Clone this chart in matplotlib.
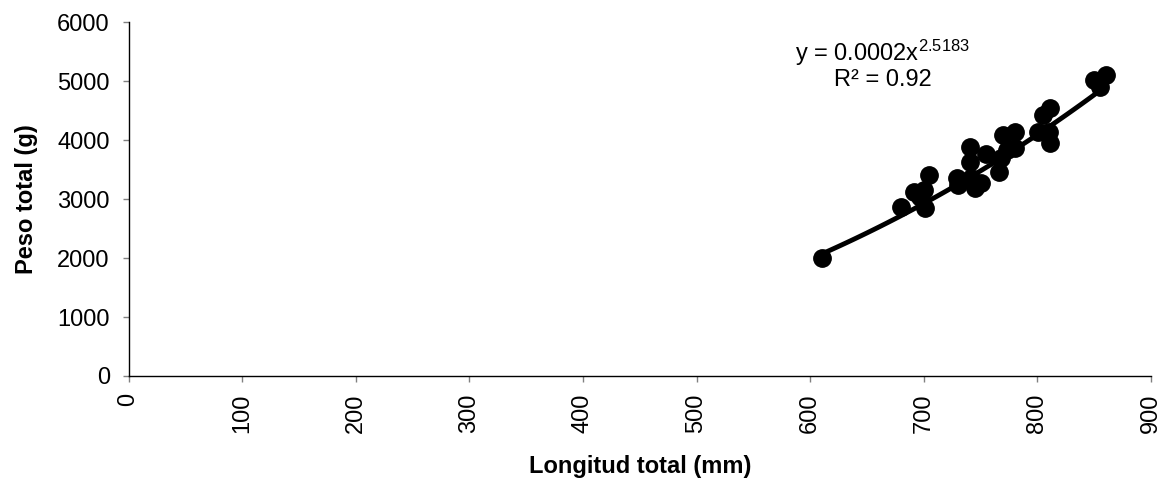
import matplotlib
matplotlib.use("Agg")
import matplotlib.pyplot as plt
import numpy as np

plt.rcParams['font.family'] = ['Liberation Sans', 'DejaVu Sans']
plt.rcParams['mathtext.fontset'] = 'custom'
plt.rcParams['mathtext.rm'] = 'Liberation Sans'
plt.rcParams['mathtext.it'] = 'Liberation Sans'
plt.rcParams['mathtext.default'] = 'regular'

longitud = [610, 680, 691, 697, 701, 700, 705, 730, 729, 741, 741, 742, 745, 750,
            755, 766, 768, 770, 773, 780, 780, 801, 805, 811, 810, 811, 850, 855, 860]
peso = [2000, 2870, 3120, 3040, 2840, 3150, 3400, 3240, 3350, 3890, 3630, 3350, 3180, 3270,
        3770, 3460, 3700, 4085, 3830, 4140, 3870, 4140, 4420, 4550, 4140, 3950, 5020, 4900, 5100]
coef_a = 0.0002
coef_b = 2.5183
r2 = 0.92
x_ticks = [0, 100, 200, 300, 400, 500, 600, 700, 800, 900]
y_ticks = [0, 1000, 2000, 3000, 4000, 5000, 6000]

fig = plt.figure(figsize=(11.62, 4.8), dpi=100)
ax = fig.add_axes([0.1106, 0.2167, 0.8799, 0.7373])

ax.plot(longitud, peso, 'o', color='black', markersize=12.5, zorder=3)
xf = np.linspace(min(longitud), max(longitud), 100)
ax.plot(xf, coef_a * xf ** coef_b, color='black', linewidth=3.5, zorder=2)

ax.set_xlim(0, 900)
ax.set_ylim(0, 6000)
ax.set_xticks(x_ticks)
ax.set_yticks(y_ticks)
ax.set_xticklabels([str(t) for t in x_ticks], rotation=90)
ax.tick_params(axis='both', labelsize=17, direction='out', length=4.5, color='#808080', width=1)
ax.tick_params(axis='y', pad=9)
ax.tick_params(axis='x', pad=8)
for s in ['top', 'right']:
    ax.spines[s].set_visible(False)
for s in ['left', 'bottom']:
    ax.spines[s].set_color('black')
    ax.spines[s].set_linewidth(1)

ax.set_xlabel('Longitud total (mm)', fontsize=17, fontweight='bold', labelpad=16)
ax.set_ylabel('Peso total (g)', fontsize=17, fontweight='bold', labelpad=14)

ax.text(664, 5475, 'y = 0.0002x$^{2.5183}$', ha='center', va='center', fontsize=17)
ax.text(664, 5017, 'R² = 0.92', ha='center', va='center', fontsize=17)

fig.savefig('out.png', dpi=100)
